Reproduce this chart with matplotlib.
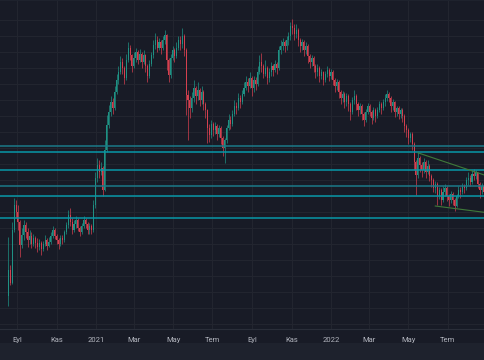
import matplotlib
matplotlib.use("Agg")
import matplotlib.pyplot as plt
from matplotlib.patches import Rectangle
import numpy as np
import pandas as pd

# daily-ish candles (3 calendar days per bar), prices
first_open = 5.5
close = [8.75, 7.1, 13.75, 16.9, 16.0, 14.75, 11.9, 13.1, 14.4, 13.5,
         12.5, 13.0, 12.0, 12.75, 12.1, 11.6, 12.1, 11.4, 12.0, 12.5,
         11.75, 12.25, 13.0, 13.75, 13.0, 12.5, 12.0, 12.75, 12.5, 13.5,
         14.4, 15.6, 14.75, 13.75, 14.5, 15.0, 14.0, 13.5, 14.25, 15.0,
         14.5, 13.75, 14.25, 13.75, 16.9, 20.25, 21.9, 21.0, 21.5, 18.75,
         23.75, 26.9, 28.5, 29.75, 29.0, 31.0, 32.5, 33.5, 34.75, 34.0,
         32.75, 35.0, 36.5, 35.6, 34.25, 35.25, 36.0, 35.0, 35.75, 34.75,
         35.6, 34.25, 33.0, 34.5, 35.6, 36.9, 37.5, 36.5, 37.25, 36.5,
         37.5, 38.1, 35.0, 33.1, 35.25, 36.25, 35.5, 36.5, 37.5, 37.0,
         38.0, 36.25, 30.6, 30.0, 29.0, 30.25, 31.5, 30.5, 31.25, 30.0,
         31.0, 29.5, 28.75, 26.5, 25.6, 27.0, 26.25, 26.75, 25.75, 26.5,
         25.25, 24.0, 25.0, 26.5, 27.5, 27.0, 28.25, 29.25, 29.0, 30.25,
         29.75, 30.75, 31.5, 32.25, 31.75, 32.75, 31.5, 32.5, 32.0, 33.5,
         34.75, 34.25, 33.25, 34.0, 32.75, 33.5, 34.25, 33.75, 34.5, 34.0,
         36.25, 36.75, 37.25, 36.75, 37.5, 38.0, 39.25, 39.0, 38.25, 38.75,
         37.5, 36.75, 37.25, 36.25, 36.75, 35.5, 34.75, 35.25, 34.25, 33.5,
         34.0, 33.0, 33.5, 32.5, 33.25, 33.75, 33.0, 33.5, 32.5, 31.75,
         32.25, 31.0, 30.25, 30.75, 29.75, 30.5, 29.5, 28.5, 30.0, 30.5,
         29.5, 28.75, 29.25, 28.25, 27.5, 28.5, 29.25, 28.5, 27.75, 28.75,
         28.0, 28.75, 29.5, 29.0, 29.75, 30.25, 30.75, 30.25, 29.25, 29.75,
         28.5, 29.0, 28.25, 28.75, 28.0, 26.75, 26.25, 25.25, 25.75, 24.5,
         22.25, 20.6, 22.75, 21.9, 21.25, 22.25, 21.0, 21.75, 20.5, 20.0,
         19.0, 19.5, 18.0, 18.75, 17.5, 18.5, 19.0, 18.0, 17.5, 18.25,
         17.5, 16.75, 18.0, 18.75, 18.5, 19.25, 19.0, 20.0, 20.25, 19.75,
         20.75, 20.5, 21.0, 19.5, 18.75, 19.25, 18.5, 19.0]

high = [12.9, 9.4, 14.75, 17.75, 17.5, 16.9, 15.0, 14.0, 15.0, 14.75,
        14.0, 13.75, 13.5, 13.25, 13.0, 12.75, 12.6, 12.4, 12.4, 13.1,
        12.75, 12.9, 13.5, 14.25, 14.0, 13.25, 12.75, 13.1, 13.1, 13.75,
        14.75, 16.25, 16.5, 15.25, 15.0, 15.5, 15.25, 14.25, 14.6, 15.5,
        15.25, 14.75, 14.6, 14.5, 17.5, 21.0, 22.75, 22.5, 22.25, 21.75,
        25.0, 28.1, 29.4, 30.5, 30.25, 31.75, 33.25, 34.25, 35.5, 35.25,
        34.25, 35.75, 37.25, 36.9, 35.75, 36.0, 36.5, 36.25, 36.4, 36.0,
        36.25, 35.75, 34.5, 35.0, 36.0, 37.5, 38.4, 38.0, 37.75, 37.5,
        38.0, 38.75, 38.25, 35.25, 35.75, 36.75, 36.5, 37.25, 38.0, 38.0,
        39.0, 38.25, 36.5, 31.25, 30.5, 31.0, 32.5, 31.75, 32.25, 31.5,
        31.75, 31.25, 29.75, 28.9, 27.0, 27.5, 27.25, 27.25, 27.0, 26.9,
        26.75, 25.5, 25.25, 26.9, 28.25, 28.0, 28.75, 30.0, 29.75, 30.9,
        30.6, 31.25, 32.25, 33.0, 32.75, 33.5, 33.0, 33.0, 32.9, 34.25,
        35.6, 35.9, 34.5, 35.0, 34.25, 34.0, 34.75, 34.5, 35.0, 34.75,
        36.75, 37.5, 37.75, 37.5, 38.0, 38.5, 39.75, 40.1, 39.5, 39.5,
        39.0, 37.75, 37.6, 37.5, 37.25, 37.0, 35.75, 35.6, 35.5, 34.5,
        34.5, 34.25, 33.9, 33.6, 33.6, 34.25, 34.0, 33.9, 33.75, 32.75,
        32.6, 32.5, 31.25, 31.1, 31.0, 30.9, 30.75, 29.75, 30.4, 31.25,
        30.75, 29.75, 29.6, 29.5, 28.5, 28.9, 29.6, 29.5, 28.75, 29.1,
        29.0, 29.1, 29.9, 29.75, 30.1, 30.75, 31.25, 31.0, 30.5, 30.1,
        29.9, 29.25, 29.25, 29.0, 29.0, 28.25, 27.0, 26.5, 26.0, 26.0,
        24.75, 22.5, 23.5, 23.0, 22.25, 22.75, 22.5, 22.5, 22.0, 20.75,
        20.25, 19.9, 19.75, 19.1, 19.0, 19.25, 19.5, 19.25, 18.25, 18.6,
        18.5, 17.75, 18.25, 19.25, 19.1, 19.6, 19.5, 20.4, 21.0, 20.6,
        21.25, 21.4, 21.25, 21.0, 19.75, 19.6, 19.4, 19.25]

low = [4.25, 6.9, 7.0, 13.5, 15.25, 13.75, 10.4, 11.5, 12.5, 12.75,
       11.6, 12.0, 11.5, 11.75, 11.5, 11.0, 11.25, 10.6, 11.1, 11.75,
       11.25, 11.6, 12.0, 12.75, 12.6, 12.0, 11.4, 11.75, 12.0, 12.25,
       13.25, 14.0, 14.25, 13.25, 13.5, 14.0, 13.6, 13.0, 13.25, 14.0,
       14.0, 13.25, 13.25, 13.25, 13.5, 16.5, 19.75, 20.25, 20.6, 18.0,
       18.6, 23.5, 26.5, 28.0, 28.25, 28.75, 30.75, 32.0, 33.25, 33.25,
       32.0, 32.5, 34.75, 35.0, 33.5, 34.0, 34.75, 34.5, 34.75, 34.0,
       34.5, 33.5, 32.25, 32.75, 34.25, 35.25, 36.4, 36.0, 36.25, 35.75,
       36.25, 37.0, 33.75, 32.25, 32.75, 35.0, 34.75, 35.25, 36.25, 36.25,
       36.5, 35.5, 28.1, 25.0, 27.75, 28.5, 29.75, 29.5, 30.0, 29.25,
       29.5, 28.75, 27.75, 24.6, 24.75, 25.25, 25.5, 25.75, 25.0, 25.4,
       24.5, 23.0, 22.1, 24.6, 26.25, 26.4, 26.75, 28.0, 28.25, 28.75,
       29.0, 29.5, 30.5, 31.25, 31.0, 31.5, 30.5, 31.0, 31.25, 31.75,
       33.25, 33.5, 32.75, 33.0, 32.0, 32.25, 33.0, 33.0, 33.5, 33.25,
       33.75, 35.75, 36.25, 36.0, 36.25, 36.9, 37.5, 38.25, 37.5, 37.75,
       36.75, 36.0, 36.25, 35.5, 35.75, 34.6, 34.0, 34.25, 33.5, 32.75,
       33.0, 32.25, 32.6, 31.9, 32.25, 32.9, 32.4, 32.6, 31.9, 31.0,
       31.25, 30.25, 29.5, 29.75, 29.0, 29.25, 28.6, 27.5, 28.25, 29.5,
       28.75, 28.0, 28.25, 27.5, 26.75, 27.25, 28.25, 28.0, 27.0, 27.5,
       27.25, 27.75, 28.5, 28.25, 28.75, 29.25, 29.9, 29.75, 28.5, 28.75,
       27.9, 28.0, 27.6, 27.75, 27.25, 26.0, 25.4, 24.5, 24.75, 23.75,
       21.25, 18.1, 20.25, 21.0, 20.4, 20.9, 20.25, 20.75, 19.9, 19.1,
       18.5, 18.4, 16.9, 17.6, 16.9, 17.25, 18.0, 17.4, 16.75, 17.1,
       16.9, 16.1, 16.6, 17.75, 17.75, 18.25, 18.4, 18.75, 19.4, 19.25,
       19.5, 20.0, 20.1, 19.0, 17.75, 18.25, 18.0, 18.1]

dates = pd.date_range("2020-08-18", periods=len(close), freq="3D")

# horizontal support / resistance levels
levels = [24.2, 23.45, 21.2, 19.25, 17.95, 15.2]
level_colors = ["#1b7a88", "#0897a8", "#0897a8", "#1b7a88", "#0897a8", "#0897a8"]

# channel lines on the right
upper_dates = pd.to_datetime(["2022-05-16", "2022-08-28"])
upper_vals = [23.4, 20.6]
lower_dates = pd.to_datetime(["2022-06-12", "2022-08-28"])
lower_vals = [16.75, 15.95]

tick_dates = pd.to_datetime(["2020-09-01", "2020-11-01", "2021-01-01", "2021-03-01",
                             "2021-05-01", "2021-07-01", "2021-09-01", "2021-11-01",
                             "2022-01-01", "2022-03-01", "2022-05-01", "2022-07-01"])
tick_labels = ["Eyl", "Kas", "2021", "Mar", "May", "Tem",
               "Eyl", "Kas", "2022", "Mar", "May", "Tem"]


def main():
    bg = "#181b26"
    plt.rcParams["font.family"] = ["Roboto", "DejaVu Sans"]

    fig = plt.figure(figsize=(4.85, 3.6), dpi=100, facecolor="#1e222d")
    # time axis strip, kept behind the axes
    fig.patches.append(Rectangle((0, 17 / 360), 1, 14 / 360, transform=fig.transFigure,
                                 facecolor=bg, edgecolor="none", zorder=-5))
    ax = fig.add_axes([0, 31 / 360, 1, 328 / 360])
    ax.set_facecolor(bg)
    ax.set_zorder(2)

    c = np.array(close)
    o = np.concatenate([[first_open], c[:-1]])
    h = np.maximum(np.array(high), np.maximum(o, c))
    l = np.minimum(np.array(low), np.minimum(o, c))
    up = c >= o
    cols = np.where(up, "#1f9184", "#d4404f")

    ax.vlines(dates, l, h, colors=cols, linewidth=0.5, zorder=3)
    ax.bar(dates, np.abs(c - o), bottom=np.minimum(o, c), width=1.6,
           color=cols, linewidth=0, zorder=3)

    for lv, col in zip(levels, level_colors):
        ax.axhline(lv, color=col, linewidth=1.1, zorder=4)

    ax.plot(upper_dates, upper_vals, color="#3f7a3a", linewidth=0.8, zorder=4)
    ax.plot(lower_dates, lower_vals, color="#3f7a3a", linewidth=0.8, zorder=4)

    ref = pd.Timestamp("2020-09-01")
    ax.set_xlim(ref - pd.Timedelta(days=26.9), ref + pd.Timedelta(days=726.2))
    ax.set_ylim(1.375, 42.375)

    ax.set_xticks(tick_dates)
    ax.set_xticklabels(tick_labels)
    ax.set_yticks(np.arange(2, 42, 2))
    ax.tick_params(axis="y", left=False, labelleft=False)
    ax.tick_params(axis="x", length=0, pad=5.5, labelsize=5.5, colors="#b2b5be")
    ax.grid(True, color="#22252f", linewidth=0.8, zorder=0)
    ax.set_axisbelow(True)

    for side in ["top", "left", "right"]:
        ax.spines[side].set_visible(False)
    ax.spines["bottom"].set_color("#2a2e39")
    ax.spines["bottom"].set_linewidth(0.8)

    fig.savefig("out.png", dpi=100, facecolor=fig.get_facecolor())
    plt.close(fig)


if __name__ == "__main__":
    main()
